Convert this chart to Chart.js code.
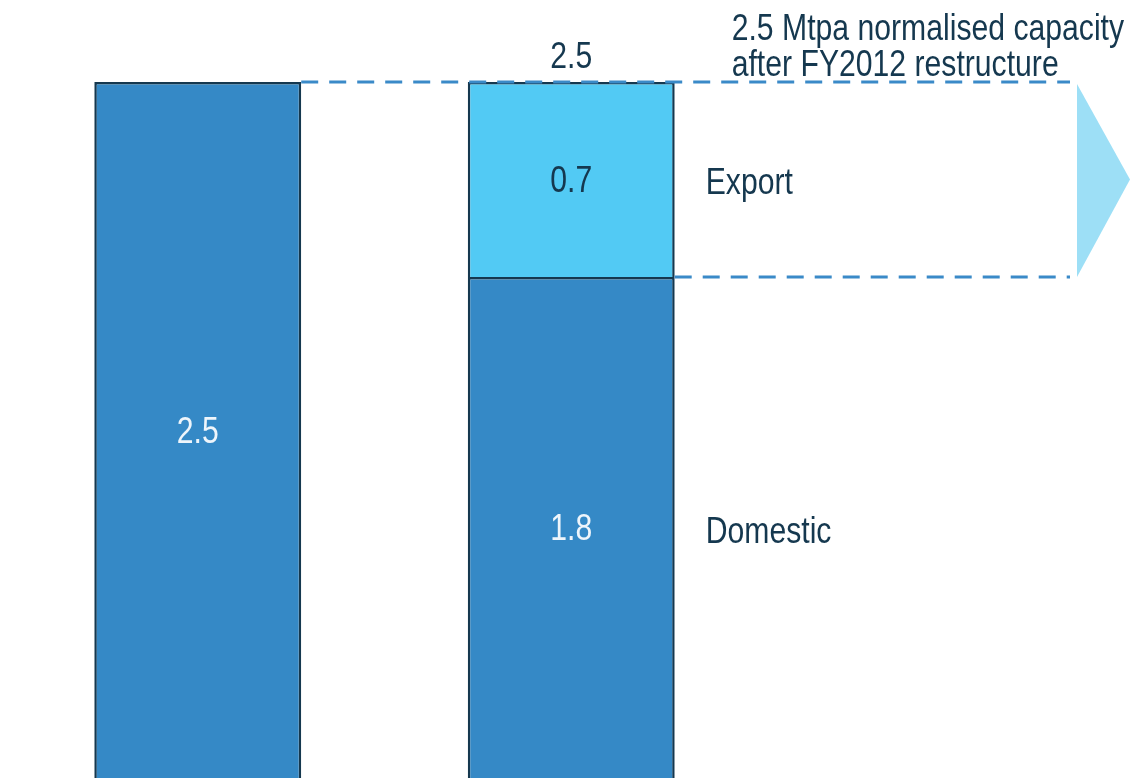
<!DOCTYPE html>
<html>
<head>
<meta charset="utf-8">
<script src="https://cdn.jsdelivr.net/npm/chart.js@4/dist/chart.umd.min.js"></script>
<style>
  html, body { margin: 0; padding: 0; background: #ffffff; }
  #wrap { width: 1134px; height: 778px; position: relative; }
</style>
</head>
<body>
<div id="wrap"><canvas id="c"></canvas></div>
<script>
// Capacity before and after the FY2012 restructure (Mtpa)
const categories = ['Before', 'After'];
const capacityTotal = [2.5, null];
const domestic = [null, 1.8];
const exportVol = [null, 0.7];
const afterTotal = 2.5;
const noteLines = ['2.5 Mtpa normalised capacity', 'after FY2012 restructure'];
const segmentNames = ['Export', 'Domestic'];

const FONT = '"Liberation Sans", Arial, sans-serif';
const NARROW = 0.838; // horizontal squeeze for a narrow face
const NAVY = '#15384f';
const DARK_BLUE = '#3589c6';
const LIGHT_BLUE = '#52caf4';
const DASH_BLUE = '#3a8ac8';
const ARROW_BLUE = '#9ddff6';

function narrowText(ctx, text, x, y, align) {
  ctx.save();
  ctx.translate(x, y);
  ctx.scale(NARROW, 1);
  ctx.textAlign = align;
  ctx.fillText(text, 0, 0);
  ctx.restore();
}

const annotations = {
  id: 'annotations',
  afterDatasetsDraw(chart) {
    const ctx = chart.ctx;
    const y = chart.scales.y;
    const W = chart.width;
    const barL = chart.getDatasetMeta(0).data[0];
    const barR = chart.getDatasetMeta(1).data[1];
    const halfL = barL.width / 2, halfR = barR.width / 2;
    const yTop = y.getPixelForValue(afterTotal);
    const ySplit = y.getPixelForValue(domestic[1]);
    const lineEnd = W - 64;

    // dashed guides
    ctx.save();
    ctx.strokeStyle = DASH_BLUE;
    ctx.lineWidth = 3;
    ctx.setLineDash([17, 11]);
    ctx.beginPath();
    ctx.moveTo(barL.x + halfL, yTop);
    ctx.lineTo(lineEnd, yTop);
    ctx.moveTo(barR.x + halfR, ySplit);
    ctx.lineTo(lineEnd, ySplit);
    ctx.stroke();
    ctx.restore();

    // arrow head
    ctx.save();
    ctx.fillStyle = ARROW_BLUE;
    ctx.beginPath();
    ctx.moveTo(W - 57, yTop + 2);
    ctx.lineTo(W - 4, (yTop + ySplit) / 2);
    ctx.lineTo(W - 57, ySplit);
    ctx.closePath();
    ctx.fill();
    ctx.restore();

    ctx.save();
    ctx.textBaseline = 'middle';
    ctx.font = '36px ' + FONT;

    // value labels inside bars
    ctx.fillStyle = '#eef5fb';
    narrowText(ctx, String(capacityTotal[0]), barL.x, y.getPixelForValue(capacityTotal[0] / 2) + 3, 'center');
    narrowText(ctx, String(domestic[1]), barR.x, y.getPixelForValue(domestic[1] / 2) + 3, 'center');
    ctx.fillStyle = NAVY;
    narrowText(ctx, String(exportVol[1]), barR.x, y.getPixelForValue(domestic[1] + exportVol[1] / 2) + 3, 'center');
    narrowText(ctx, String(afterTotal), barR.x, yTop - 24, 'center');

    // segment names
    const nameX = barR.x + halfR + 31;
    narrowText(ctx, segmentNames[0], nameX, y.getPixelForValue(domestic[1] + exportVol[1] / 2) + 5, 'left');
    narrowText(ctx, segmentNames[1], nameX, y.getPixelForValue(domestic[1] / 2) + 6, 'left');

    // note above the guide
    ctx.textBaseline = 'alphabetic';
    narrowText(ctx, noteLines[0], nameX + 26, 40, 'left');
    narrowText(ctx, noteLines[1], nameX + 26, 76, 'left');
    ctx.restore();
  }
};

new Chart(document.getElementById('c'), {
  type: 'bar',
  data: {
    labels: categories,
    datasets: [
      { label: 'Capacity', data: capacityTotal, backgroundColor: DARK_BLUE },
      { label: 'Domestic', data: domestic, backgroundColor: DARK_BLUE },
      { label: 'Export', data: exportVol, backgroundColor: LIGHT_BLUE }
    ]
  },
  options: {
    responsive: true,
    maintainAspectRatio: false,
    animation: false,
    layout: { padding: { left: 11, right: 376, top: 0, bottom: 0 } },
    datasets: {
      bar: {
        borderColor: NAVY,
        borderWidth: 2.5,
        borderSkipped: 'start',
        categoryPercentage: 1,
        barPercentage: 0.554
      }
    },
    plugins: { legend: { display: false }, tooltip: { enabled: false } },
    scales: {
      x: { display: false, stacked: true },
      y: { display: false, stacked: true, min: 0, max: 2.795 }
    }
  },
  plugins: [annotations]
});
</script>
</body>
</html>
